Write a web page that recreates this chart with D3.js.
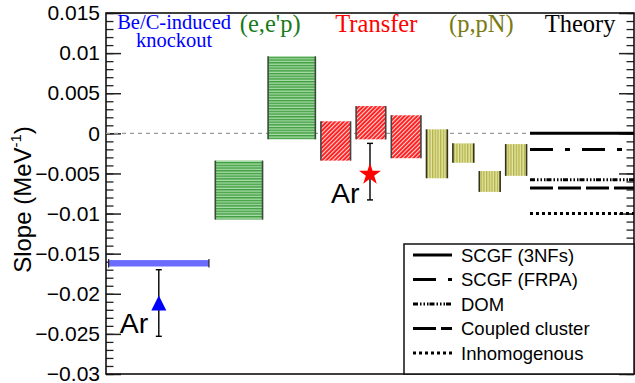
<!DOCTYPE html>
<html>
<head>
<meta charset="utf-8">
<script src="https://cdn.jsdelivr.net/npm/d3@7"></script>
<style>
  html, body { margin: 0; padding: 0; background: #fff; }
  svg { display: block; }
</style>
</head>
<body>
<svg id="chart" width="635" height="383"></svg>
<script>
// ---- data -------------------------------------------------------------
const yTicks = [0.015, 0.01, 0.005, 0, -0.005, -0.01, -0.015, -0.02, -0.025, -0.03];
const yTickLabels = ["0.015", "0.01", "0.005", "0", "\u22120.005", "\u22120.01",
                     "\u22120.015", "\u22120.02", "\u22120.025", "\u22120.03"];

// experimental groups, left to right
const groupNames = ["Be/C-induced knockout", "(e,e'p)", "Transfer", "(p,pN)", "Theory"];

// slope ranges [low, high] for each measurement, per group
const knockoutRanges = [[-0.0166, -0.0158]];
const eepRanges = [[-0.01075, -0.0034], [-0.00075, 0.0096]];
const transferRanges = [[-0.0034, 0.0015], [-0.00075, 0.0034], [-0.0031, 0.00225]];
const ppnRanges = [[-0.0056, 0.0005], [-0.00367, -0.00125], [-0.0073, -0.0047], [-0.0053, -0.00134]];

// argon points: group index, central value, error range
const argonGroups = [0, 2];
const argonValues = [-0.0212, -0.0050];
const argonLow = [-0.0253, -0.0083];
const argonHigh = [-0.0170, -0.00125];

// theory predictions
const theoryNames = ["SCGF (3NFs)", "SCGF (FRPA)", "DOM", "Coupled cluster", "Inhomogenous"];
const theoryValues = [0.0, -0.0020, -0.0058, -0.0068, -0.0100];

// ---- layout -----------------------------------------------------------
const W = 635, H = 383;
const plot = { left: 106, right: 634, top: 13, bottom: 374 };
const groupWidth = 2;

const svg = d3.select("#chart");
const x = d3.scaleLinear().domain([0, groupWidth * groupNames.length]).range([plot.left, plot.right]);
const y = d3.scaleLinear().domain([-0.03, 0.015]).range([plot.bottom, plot.top]);

const sans = "'Liberation Sans', Arial, Helvetica, sans-serif";
const serif = "'Liberation Serif', 'Times New Roman', Times, serif";

// ---- hatch patterns ---------------------------------------------------
const defs = svg.append("defs");
const pGreen = defs.append("pattern").attr("id", "hatchGreen")
  .attr("patternUnits", "userSpaceOnUse").attr("width", 4).attr("height", 2.7);
pGreen.append("rect").attr("width", 4).attr("height", 2.7).attr("fill", "#a9dca9");
pGreen.append("rect").attr("width", 4).attr("height", 1.4).attr("fill", "#3f9e3f");

const pRed = defs.append("pattern").attr("id", "hatchRed")
  .attr("patternUnits", "userSpaceOnUse").attr("width", 3).attr("height", 3)
  .attr("patternTransform", "rotate(45)");
pRed.append("rect").attr("width", 3).attr("height", 3).attr("fill", "#ff1a1a");
pRed.append("rect").attr("width", 1.1).attr("height", 3).attr("fill", "#ffd6d6");

const pYellow = defs.append("pattern").attr("id", "hatchYellow")
  .attr("patternUnits", "userSpaceOnUse").attr("width", 2.7).attr("height", 4);
pYellow.append("rect").attr("width", 2.7).attr("height", 4).attr("fill", "#e4e4a2");
pYellow.append("rect").attr("width", 1.3).attr("height", 4).attr("fill", "#b3b34a");

// ---- axes -------------------------------------------------------------
// minor ticks (left and right)
const minorTicks = d3.range(-0.03, 0.0151, 0.001).map(v => +v.toFixed(4));
svg.append("g").attr("transform", `translate(${plot.left},0)`)
  .call(d3.axisLeft(y).tickValues(minorTicks).tickSize(-7.5).tickFormat(""))
  .call(g => g.select(".domain").remove())
  .selectAll("line").attr("stroke", "#222").attr("stroke-width", 1.3);
svg.append("g").attr("transform", `translate(${plot.right},0)`)
  .call(d3.axisRight(y).tickValues(minorTicks).tickSize(-7.5).tickFormat(""))
  .call(g => g.select(".domain").remove())
  .selectAll("line").attr("stroke", "#222").attr("stroke-width", 1.3);

// major ticks with labels
const leftAxis = svg.append("g").attr("transform", `translate(${plot.left},0)`)
  .call(d3.axisLeft(y).tickValues(yTicks).tickSize(-15).tickPadding(6)
    .tickFormat((d, i) => yTickLabels[i]));
leftAxis.select(".domain").remove();
leftAxis.selectAll("line").attr("stroke", "#222").attr("stroke-width", 1.5);
leftAxis.selectAll("text").attr("font-family", sans).attr("font-size", 21).attr("fill", "#000");

svg.append("g").attr("transform", `translate(${plot.right},0)`)
  .call(d3.axisRight(y).tickValues(yTicks).tickSize(-15).tickFormat(""))
  .call(g => g.select(".domain").remove())
  .selectAll("line").attr("stroke", "#222").attr("stroke-width", 1.5);

// frame
svg.append("rect")
  .attr("x", plot.left).attr("y", plot.top)
  .attr("width", plot.right - plot.left).attr("height", plot.bottom - plot.top)
  .attr("fill", "none").attr("stroke", "#111").attr("stroke-width", 1.6);

// y axis title
const yTitle = svg.append("text")
  .attr("transform", `translate(31,${(plot.top + plot.bottom) / 2 + 6}) rotate(-90)`)
  .attr("text-anchor", "middle")
  .attr("font-family", sans).attr("font-size", 24).attr("fill", "#000");
yTitle.append("tspan").text("Slope (MeV");
yTitle.append("tspan").attr("font-size", 15).attr("dy", -10).text("-1");
yTitle.append("tspan").attr("dy", 10).text(")");

// zero reference line across the experimental groups
svg.append("line")
  .attr("x1", plot.left).attr("x2", x(8 + 0.03))
  .attr("y1", y(0)).attr("y2", y(0))
  .attr("stroke", "#9a9a9a").attr("stroke-width", 1.2).attr("stroke-dasharray", "4,4");

// ---- range boxes ------------------------------------------------------
function barSpan(group, i, n) {
  const slot = groupWidth / n;
  const x0 = group * groupWidth + i * slot;
  return [x(x0 + 0.07), x(x0 + slot - 0.035)];
}

function drawRanges(ranges, group, fill, edge) {
  const g = svg.append("g");
  ranges.forEach((r, i) => {
    const [xa, xb] = barSpan(group, i, ranges.length);
    g.append("rect")
      .attr("x", xa).attr("y", y(r[1]))
      .attr("width", xb - xa).attr("height", y(r[0]) - y(r[1]))
      .attr("fill", fill);
    [xa, xb].forEach(xe => g.append("line")
      .attr("x1", xe).attr("x2", xe).attr("y1", y(r[1])).attr("y2", y(r[0]))
      .attr("stroke", edge).attr("stroke-width", 1.6));
  });
}

// knockout band
knockoutRanges.forEach((r, i) => {
  const xa = x(0 + 0.05), xb = x(groupWidth - 0.05);
  svg.append("rect")
    .attr("x", xa).attr("y", y(r[1]))
    .attr("width", xb - xa).attr("height", y(r[0]) - y(r[1]))
    .attr("fill", "#6b6bff");
  [xa, xb].forEach(xe => svg.append("line")
    .attr("x1", xe).attr("x2", xe).attr("y1", y(r[1]) - 1).attr("y2", y(r[0]) + 1)
    .attr("stroke", "#222").attr("stroke-width", 1.2));
});

drawRanges(eepRanges, 1, "url(#hatchGreen)", "#3a4a3a");
drawRanges(transferRanges, 2, "url(#hatchRed)", "#444");
drawRanges(ppnRanges, 3, "url(#hatchYellow)", "#33331a");

// ---- argon points -----------------------------------------------------
const cap = 3;
argonGroups.forEach((gi, k) => {
  const cx = x(gi * groupWidth + groupWidth / 2);
  const g = svg.append("g");
  g.append("line").attr("x1", cx).attr("x2", cx)
    .attr("y1", y(argonHigh[k])).attr("y2", y(argonLow[k]))
    .attr("stroke", "#000").attr("stroke-width", 1.4);
  [argonHigh[k], argonLow[k]].forEach(v => g.append("line")
    .attr("x1", cx - cap).attr("x2", cx + cap).attr("y1", y(v)).attr("y2", y(v))
    .attr("stroke", "#000").attr("stroke-width", 1.4));
  const cy = y(argonValues[k]);
  if (gi === 0) {
    g.append("path")
      .attr("d", `M${cx},${cy - 8} L${cx + 7.5},${cy + 7} L${cx - 7.5},${cy + 7} Z`)
      .attr("fill", "#0000ff");
  } else {
    const star = d3.symbol().type(d3.symbolStar).size(150);
    g.append("path").attr("d", star()).attr("transform", `translate(${cx},${cy + 1})`)
      .attr("fill", "#ff0000");
  }
  g.append("text").attr("x", cx - 39).attr("y", cy + 30)
    .attr("font-family", sans).attr("font-size", 28.5).attr("fill", "#000").text("Ar");
});

// ---- theory lines -----------------------------------------------------
const theoryDash = ["none", "23,12,5,12", "5,2,1.5,2,1.5,2,1.5,1", "23,5", "3,3"];
theoryValues.forEach((v, i) => {
  svg.append("line")
    .attr("x1", x(8 + 0.03)).attr("x2", plot.right)
    .attr("y1", y(v)).attr("y2", y(v))
    .attr("stroke", "#000").attr("stroke-width", 3)
    .attr("stroke-dasharray", theoryDash[i]);
});

// ---- group headers ----------------------------------------------------
const headerColors = ["#0000ff", "#1b7a1b", "#ff0000", "#7a7a14", "#000"];
const headerShift = [0.29, 0.11, 0.12, 0.11, -0.02];
groupNames.forEach((name, i) => {
  const cx = x(i * groupWidth + groupWidth / 2 + headerShift[i]);
  const t = svg.append("text").attr("text-anchor", "middle")
    .attr("font-family", serif).attr("fill", headerColors[i]);
  if (i === 0) {
    t.attr("font-size", 20.5);
    t.append("tspan").attr("x", cx).attr("y", 28.7).text("Be/C-induced");
    t.append("tspan").attr("x", cx).attr("y", 47.3).text("knockout");
  } else {
    t.attr("font-size", 24.5).attr("x", cx).attr("y", 32).text(name);
  }
});

// ---- legend -----------------------------------------------------------
const leg = { x: 404, y: 244, w: plot.right - 404, h: plot.bottom - 244 };
svg.append("rect").attr("x", leg.x).attr("y", leg.y).attr("width", leg.w).attr("height", leg.h)
  .attr("fill", "#fff").attr("stroke", "#111").attr("stroke-width", 1.5);
const rowY = d3.scaleLinear().domain([0, theoryNames.length - 1]).range([leg.y + 11, leg.y + 109]);
theoryNames.forEach((name, i) => {
  const yy = rowY(i);
  svg.append("line").attr("x1", leg.x + 9).attr("x2", leg.x + 48)
    .attr("y1", yy).attr("y2", yy)
    .attr("stroke", "#000").attr("stroke-width", 3).attr("stroke-dasharray", theoryDash[i]);
  svg.append("text").attr("x", leg.x + 57).attr("y", yy + 6.5)
    .attr("font-family", sans).attr("font-size", 18.5).attr("fill", "#000").text(name);
});
</script>
</body>
</html>
